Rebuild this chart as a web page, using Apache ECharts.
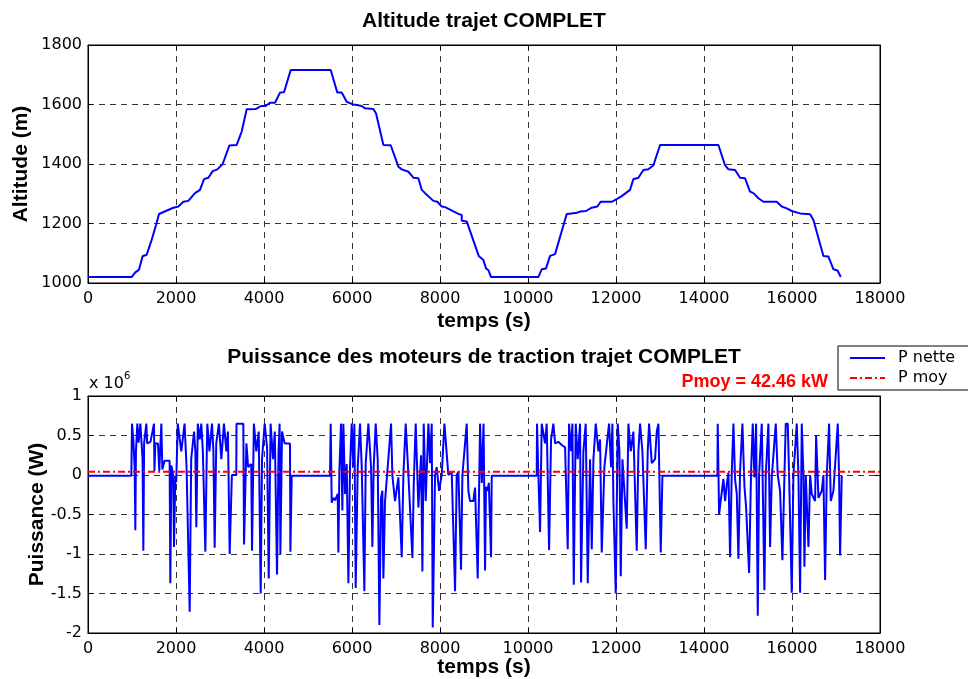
<!DOCTYPE html>
<html>
<head>
<meta charset="utf-8">
<script src="https://cdn.jsdelivr.net/npm/echarts@6/dist/echarts.min.js"></script>
<style>
  html, body { margin: 0; padding: 0; background: #fff; }
  #chart { width: 968px; height: 679px; }
</style>
</head>
<body>
<div id="chart"></div>
<script>
// altitude profile: [temps (s), altitude (m)]
var altitude = [
  [0,1020],[990,1020],[1070,1035],[1160,1045],[1240,1090],[1333,1095],[1447,1145],[1546,1195],[1614,1232],
  [1939,1253],[2053,1257],[2167,1273],[2280,1276],[2432,1302],[2545,1313],[2637,1349],[2735,1354],[2834,1376],
  [2940,1382],[3061,1400],[3212,1462],[3379,1464],[3493,1509],[3607,1584],[3819,1585],[3932,1595],[4038,1595],
  [4137,1606],[4250,1606],[4364,1640],[4455,1641],[4607,1716],[5516,1716],[5667,1640],[5766,1640],[5880,1609],
  [6032,1600],[6107,1598],[6221,1595],[6297,1587],[6486,1585],[6547,1570],[6713,1464],[6880,1463],[7054,1391],
  [7130,1382],[7282,1374],[7395,1354],[7509,1352],[7585,1313],[7661,1302],[7850,1276],[7941,1273],[8040,1257],
  [8115,1255],[8418,1232],[8494,1229],[8494,1209],[8607,1207],[8880,1091],[8986,1077],[9046,1049],[9100,1043],
  [9160,1020],[10236,1020],[10312,1046],[10410,1049],[10501,1091],[10615,1097],[10880,1232],[10993,1234],
  [11107,1236],[11183,1240],[11319,1242],[11448,1253],[11577,1257],[11652,1273],[11902,1273],[12016,1282],
  [12130,1292],[12319,1313],[12395,1349],[12509,1354],[12622,1380],[12736,1382],[12850,1396],[13002,1464],
  [14327,1464],[14478,1396],[14554,1382],[14706,1380],[14820,1354],[14933,1352],[15047,1307],[15123,1302],
  [15237,1285],[15350,1273],[15653,1273],[15767,1257],[15881,1251],[15994,1242],[16184,1234],[16411,1231],
  [16487,1212],[16714,1091],[16828,1089],[16942,1046],[17033,1042],[17109,1020]
];

// net traction power, in units of 1e6 W: [temps (s), P]
var trip1 = [
  [0,-0.01],[985,-0.01],[1000,0.65],[1030,0.45],[1060,0.1],[1076,-0.70],[1090,0.3],[1121,0.65],[1150,0.41],
  [1190,0.65],[1240,0.2],[1258,-0.96],[1275,0.4],[1326,0.65],[1345,0.4],[1420,0.42],[1440,0.4],[1500,0.65],
  [1510,0.05],[1530,0.4],[1590,0.4],[1620,0.05],[1667,0.65],[1690,0.07],[1740,0.18],[1855,0.18],[1871,-1.37],
  [1895,0.12],[1935,0.0],[1955,-0.91],[1985,-0.01],[2005,-0.09],[2040,0.65],[2080,0.65],[2120,0.3],[2195,0.65],
  [2240,0.1],[2270,0.1],[2311,-1.73],[2345,0.2],[2410,0.55],[2440,0.3],[2462,-0.66],[2495,0.65],[2540,0.45],
  [2575,0.65],[2610,0.3],[2667,-0.97],[2700,0.3],[2712,0.65],[2760,0.3],[2818,0.65],[2850,0.3],[2879,-0.92],
  [2915,0.4],[2975,0.65],[3030,0.2],[3090,0.65],[3145,0.3],[3180,0.55],[3220,-1.0],[3270,0.0],[3370,0.0],
  [3375,0.65],[3530,0.65],[3546,-0.88],[3600,0.4],[3640,0.1],[3710,0.14],[3728,-0.96],[3770,0.65],[3825,0.3],
  [3880,0.55],[3925,-1.5],[3955,0.2],[4015,0.65],[4070,0.35],[4107,-1.31],[4150,0.65],[4205,0.2],[4245,0.55],
  [4296,-1.26],[4330,0.3],[4355,0.65],[4372,-1.0],[4410,0.55],[4470,0.4],[4590,0.4],[4600,-0.97],[4630,-0.01]
];
var trip2 = [
  [5500,-0.01],[5516,0.65],[5539,-0.35],[5577,-0.29],[5615,-0.32],[5675,-0.24],[5690,-0.98],[5713,0.05],
  [5751,0.65],[5781,-0.45],[5804,0.65],[5842,-0.24],[5880,0.14],[5918,-1.37],[5955,0.1],[5993,0.65],[6031,0.1],
  [6054,0.65],[6084,-1.43],[6130,0.1],[6183,0.65],[6221,0.1],[6281,-1.47],[6312,0.15],[6372,0.65],[6433,0.1],
  [6463,-0.91],[6493,0.1],[6539,0.65],[6584,0.2],[6622,-1.9],[6660,-0.29],[6690,-0.2],[6713,-1.31],[6751,-0.33],
  [6888,0.65],[6918,-0.01],[6978,-0.33],[7054,-0.03],[7130,-1.04],[7168,0.0],[7221,0.65],[7282,0.0],[7373,-1.05],
  [7403,-0.12],[7448,0.65],[7509,-0.41],[7570,0.25],[7600,-1.22],[7630,0.65],[7675,-0.33],[7736,0.65],[7774,0.15],
  [7812,0.65],[7835,-1.93],[7888,0.0],[7925,0.1],[7979,-0.2],[8039,0.0],[8100,0.65],[8145,0.65],[8190,0.0],
  [8266,0.04],[8342,-1.47],[8380,0.0],[8418,0.04],[8478,-1.2],[8509,0.0],[8607,0.65],[8645,-0.2],[8683,-0.33],
  [8758,-0.33],[8797,-0.16],[8857,-1.31],[8911,0.65],[8950,-0.1],[8990,0.65],[9024,-1.21],[9045,-0.15],
  [9080,-0.2],[9110,-0.1],[9160,-1.04],[9176,-0.01]
];
var trip3 = [
  [10198,-0.01],[10205,0.65],[10236,0.0],[10274,-0.72],[10312,0.65],[10388,0.4],[10425,0.65],[10479,-0.95],
  [10524,0.45],[10577,0.65],[10615,0.4],[10690,0.42],[10767,0.38],[10843,0.35],[10903,-0.94],[10933,0.65],
  [10979,0.3],[11009,0.65],[11040,-1.39],[11085,0.65],[11130,0.2],[11183,0.65],[11206,-1.36],[11259,0.3],
  [11312,0.65],[11358,-1.37],[11411,0.2],[11449,-0.94],[11487,0.2],[11540,0.65],[11600,0.3],[11638,0.45],
  [11676,-0.98],[11736,0.1],[11842,0.65],[11888,0.1],[11918,0.65],[11941,-0.33],[11994,-1.5],[12040,0.65],
  [12078,0.3],[12108,-1.28],[12146,0.2],[12244,-0.68],[12282,0.65],[12335,0.3],[12395,0.55],[12471,-0.96],
  [12509,0.3],[12547,0.65],[12600,0.3],[12676,-0.94],[12721,0.3],[12752,0.65],[12812,0.15],[12888,0.2],
  [12926,0.55],[12964,0.65],[13017,-0.98],[13055,-0.01]
];
var trip4 = [
  [14305,-0.01],[14312,0.65],[14343,-0.5],[14388,-0.29],[14441,-0.05],[14479,-0.33],[14517,-0.12],[14555,0.03],
  [14593,-1.04],[14631,0.03],[14669,0.65],[14707,-0.06],[14745,-0.24],[14782,-1.06],[14820,0.05],[14873,0.65],
  [14919,-0.14],[14957,-0.41],[15025,-1.24],[15070,0.05],[15108,0.65],[15146,-0.03],[15184,0.65],[15222,-1.78],
  [15252,0.0],[15313,0.65],[15373,-1.46],[15404,0.0],[15464,0.65],[15502,-0.91],[15540,-0.03],[15631,0.65],
  [15676,0.0],[15729,-0.2],[15782,-1.08],[15828,-0.01],[15858,0.65],[15904,0.65],[15934,-0.01],[15994,-1.49],
  [16032,0.0],[16108,0.65],[16146,0.0],[16184,-1.49],[16222,0.65],[16260,-0.01],[16283,-1.16],[16313,0.0],
  [16374,-0.91],[16412,0.0],[16449,-0.24],[16525,-0.33],[16548,0.5],[16601,-0.29],[16677,-0.2],[16714,0.0],
  [16752,-1.33],[16790,-0.01],[16843,0.65],[16881,-0.33],[16942,-0.2],[17040,0.65],[17070,-0.01],[17093,-1.02],
  [17131,-0.01]
];
var pMoyKW = 42.46;

var powerData = trip1.concat(trip2, trip3, trip4);
var pMoy = pMoyKW * 1000 / 1e6;

var tickFont = { color: '#000', fontFamily: 'DejaVu Sans', fontSize: 16 };
var boldFont = { color: '#000', fontFamily: 'Liberation Sans', fontSize: 21, fontWeight: 'bold' };
var gridDash = { color: '#333', type: [6, 5], width: 1 };
var plain = function (v) { return String(v); };

function xPair(g, gap) {
  return [
    {
      type: 'value', gridIndex: g, position: 'bottom', min: 0, max: 18000, interval: 2000,
      axisLine: { show: true, onZero: false, lineStyle: { color: '#000' } },
      axisTick: { show: true, inside: true, length: 5, lineStyle: { color: '#000' } },
      axisLabel: Object.assign({ margin: 8, formatter: plain }, tickFont),
      splitLine: { show: true, lineStyle: gridDash },
      name: 'temps (s)', nameLocation: 'middle', nameGap: gap, nameMoveOverlap: false, nameTextStyle: boldFont
    },
    {
      type: 'value', gridIndex: g, position: 'top', min: 0, max: 18000, interval: 2000,
      axisLine: { show: true, onZero: false, lineStyle: { color: '#000' } },
      axisTick: { show: true, inside: true, length: 5, lineStyle: { color: '#000' } },
      axisLabel: { show: false }, splitLine: { show: false }
    }
  ];
}

function yPair(g, min, max, step, name, gap) {
  return [
    {
      type: 'value', gridIndex: g, position: 'left', min: min, max: max, interval: step,
      axisLine: { show: true, onZero: false, lineStyle: { color: '#000' } },
      axisTick: { show: true, inside: true, length: 5, lineStyle: { color: '#000' } },
      axisLabel: Object.assign({ margin: 6, formatter: plain }, tickFont),
      splitLine: { show: true, lineStyle: gridDash },
      name: name, nameLocation: 'middle', nameGap: gap, nameMoveOverlap: false, nameTextStyle: boldFont
    },
    {
      type: 'value', gridIndex: g, position: 'right', min: min, max: max, interval: step,
      axisLine: { show: true, onZero: false, lineStyle: { color: '#000' } },
      axisTick: { show: true, inside: true, length: 5, lineStyle: { color: '#000' } },
      axisLabel: { show: false }, splitLine: { show: false }
    }
  ];
}

var chart = echarts.init(document.getElementById('chart'));
chart.setOption({
  animation: false,
  backgroundColor: '#fff',
  title: [
    { text: 'Altitude trajet COMPLET', left: 'center', top: 11, padding: 0, textStyle: boldFont },
    { text: 'Puissance des moteurs de traction trajet COMPLET', left: 'center', top: 347, padding: 0, textStyle: boldFont }
  ],
  grid: [
    { left: 88, top: 45, width: 792, height: 238, show: true, borderColor: '#000', borderWidth: 1 },
    { left: 88, top: 396, width: 792, height: 237, show: true, borderColor: '#000', borderWidth: 1 }
  ],
  xAxis: xPair(0, 28).concat(xPair(1, 24)),
  yAxis: yPair(0, 1000, 1800, 200, 'Altitude (m)', 56).concat(yPair(1, -2, 1, 0.5, 'Puissance (W)', 40)),
  legend: {
    orient: 'vertical', left: 838, top: 346,
    padding: [4, 14, 4, 11], itemGap: 4, itemWidth: 35, itemHeight: 14,
    borderColor: '#000', borderWidth: 1, backgroundColor: '#fff', borderRadius: 0,
    itemStyle: { opacity: 0 },
    textStyle: { color: '#000', fontFamily: 'DejaVu Sans', fontSize: 16, padding: [0, 0, 0, 8] },
    data: ['P nette', 'P moy']
  },
  graphic: [
    { type: 'text', left: 89, top: 376, style: { text: 'x 10', font: '16px "DejaVu Sans"', fill: '#000' } },
    { type: 'text', left: 124, top: 371, style: { text: '6', font: '10px "DejaVu Sans"', fill: '#000' } },
    { type: 'text', right: 140, top: 373, style: { text: 'Pmoy = ' + pMoyKW.toFixed(2) + ' kW', font: 'bold 18px "Liberation Sans"', fill: '#ff0000' } }
  ],
  series: [
    {
      type: 'line', xAxisIndex: 0, yAxisIndex: 0, data: altitude, symbol: 'none',
      lineStyle: { color: '#0000ff', width: 2 }, itemStyle: { color: '#0000ff' }
    },
    {
      name: 'P nette', type: 'line', xAxisIndex: 2, yAxisIndex: 2, data: powerData, symbol: 'none',
      lineStyle: { color: '#0000ff', width: 2 }, itemStyle: { color: '#0000ff' }, z: 3
    },
    {
      name: 'P moy', type: 'line', xAxisIndex: 2, yAxisIndex: 2, data: [[0, pMoy], [18000, pMoy]], symbol: 'none',
      lineStyle: { color: '#ff0000', width: 2, type: [7, 3, 2, 3] }, itemStyle: { color: '#ff0000' }, z: 4
    }
  ]
});
</script>
</body>
</html>
